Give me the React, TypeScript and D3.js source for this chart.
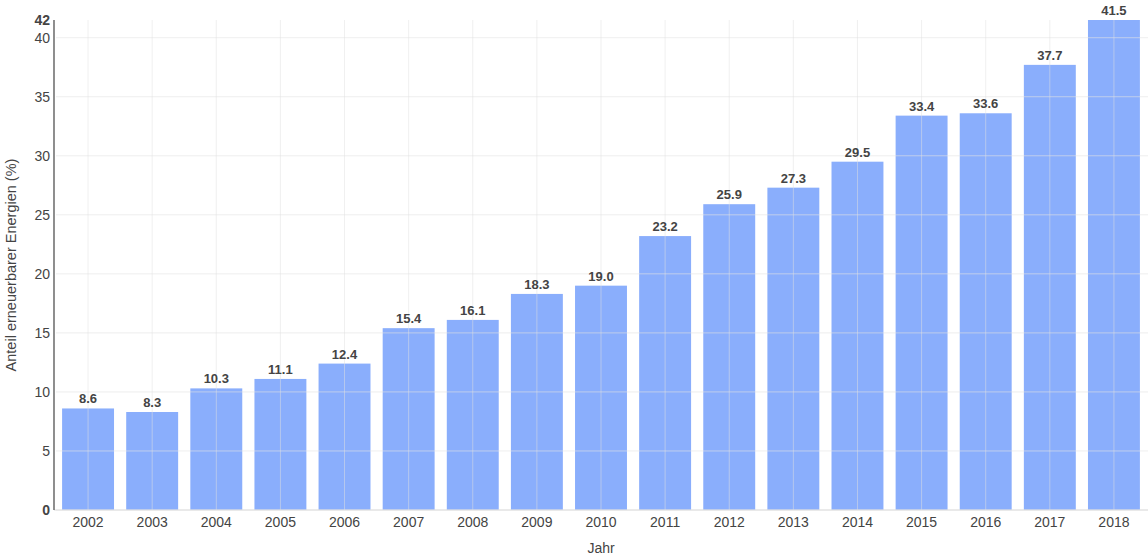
import React from 'react';
import * as d3 from 'd3';

const years = ['2002', '2003', '2004', '2005', '2006', '2007', '2008', '2009', '2010', '2011', '2012', '2013', '2014', '2015', '2016', '2017', '2018'];
const shares = [8.6, 8.3, 10.3, 11.1, 12.4, 15.4, 16.1, 18.3, 19.0, 23.2, 25.9, 27.3, 29.5, 33.4, 33.6, 37.7, 41.5];
const yTicks = [0, 5, 10, 15, 20, 25, 30, 35, 40];

const W = 1148;
const H = 559;
const margin = { top: 20, right: 2, bottom: 49, left: 56 };
const font = '"Liberation Sans", Arial, sans-serif';

export default function App() {
    const x = d3.scaleBand<string>().domain(years).range([margin.left, W - margin.right]).paddingInner(0.19).paddingOuter(0.095);
    const y = d3.scaleLinear().domain([0, 41.5]).range([H - margin.bottom, margin.top]);
    const data = years.map((yr, i) => ({ yr, v: shares[i] }));
    const cx = (yr: string) => x(yr)! + x.bandwidth() / 2;

    return (
        <svg width={W} height={H} style={{ position: 'absolute', left: 0, top: 0, fontFamily: font }}>
            {/* bars */}
            {data.map(d => (
                <rect key={d.yr} x={x(d.yr)} y={y(d.v)} width={x.bandwidth()} height={y(0) - y(d.v)} fill="#8aaefc" />
            ))}
            {/* grid */}
            {yTicks.map(t => (
                <line key={t} x1={margin.left} x2={W} y1={y(t)} y2={y(t)} stroke="#e2e2e2" strokeOpacity={0.6} />
            ))}
            {years.map(yr => (
                <line key={yr} x1={cx(yr)} x2={cx(yr)} y1={margin.top} y2={y(0)} stroke="#e2e2e2" strokeOpacity={0.5} />
            ))}
            <line x1={margin.left - 2} x2={W} y1={y(0)} y2={y(0)} stroke="#dcdcdc" />
            <line x1={margin.left - 2} x2={margin.left - 2} y1={margin.top} y2={y(0)} stroke="#444" strokeWidth={1.2} />
            {/* y ticks */}
            {yTicks.map(t => (
                <text key={t} x={margin.left - 6} y={y(t)} dy="0.35em" textAnchor="end" fontSize={14} fill="#444" fontWeight={t === 0 ? 'bold' : 'normal'}>{t}</text>
            ))}
            <text x={margin.left - 6} y={margin.top + 1} dy="0.3em" textAnchor="end" fontSize={14} fill="#444" fontWeight="bold">42</text>
            {/* x ticks */}
            {years.map(yr => (
                <text key={yr} x={cx(yr)} y={y(0) + 17} textAnchor="middle" fontSize={14} fill="#444">{yr}</text>
            ))}
            {/* value labels */}
            {data.map(d => (
                <text key={d.yr} x={cx(d.yr)} y={y(d.v) - 5} textAnchor="middle" fontSize={13} fontWeight="bold" fill="#444">{d.v.toFixed(1)}</text>
            ))}
            <text x={601} y={553} textAnchor="middle" fontSize={14} fill="#444">Jahr</text>
            <text transform={`translate(16,${(margin.top + y(0)) / 2}) rotate(-90)`} textAnchor="middle" fontSize={14.5} fill="#444">Anteil erneuerbarer Energien (%)</text>
        </svg>
    );
}
